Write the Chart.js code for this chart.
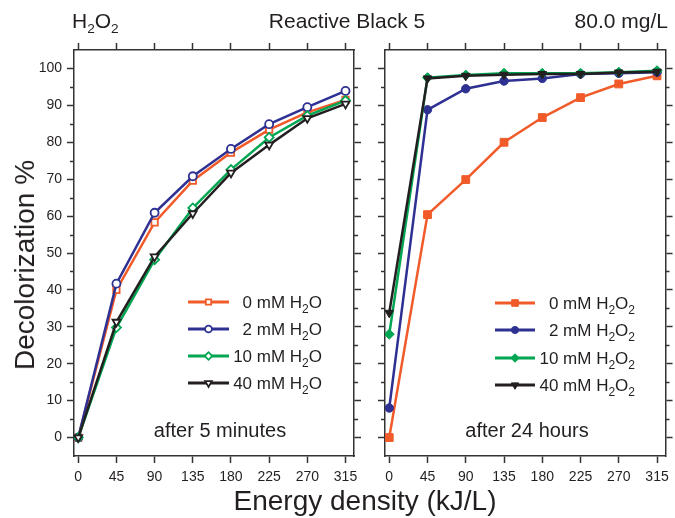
<!DOCTYPE html>
<html>
<head>
<meta charset="utf-8">
<script src="https://cdn.jsdelivr.net/npm/chart.js@4.4.1/dist/chart.umd.min.js"></script>
<style>
  body { margin: 0; background: #fff; }
  #wrap { position: relative; width: 675px; height: 518px; overflow: hidden;
          font-family: 'Liberation Sans', Arial, sans-serif; color: #231f20; }
  #wrap canvas { position: absolute; top: 0; }
  .txt { position: absolute; white-space: nowrap; line-height: 1; }
  .txt sub { font-size: 0.65em; vertical-align: -0.35em; line-height: 0; }
</style>
</head>
<body>
<div id="wrap">
  <canvas id="leftChart" width="370" height="490" style="left:0"></canvas>
  <canvas id="rightChart" width="305" height="490" style="left:370px"></canvas>

  <div class="txt" style="left:72px;top:10px;font-size:21px">H<sub>2</sub>O<sub>2</sub></div>
  <div class="txt" style="left:347px;top:10px;font-size:21px;transform:translateX(-50%)">Reactive Black 5</div>
  <div class="txt" style="right:7px;top:10px;font-size:21px">80.0 mg/L</div>

  <div class="txt" style="left:220px;top:420px;font-size:20px;transform:translateX(-50%)">after 5 minutes</div>
  <div class="txt" style="left:527px;top:420px;font-size:20px;transform:translateX(-50%)">after 24 hours</div>

  <div class="txt" style="left:365px;top:487px;font-size:28px;transform:translateX(-50%)">Energy density (kJ/L)</div>
  <div class="txt" style="left:25px;top:265px;font-size:28px;transform:translate(-50%,-50%) rotate(-90deg)">Decolorization %</div>
</div>

<script>
// energy density (kJ/L)
const energy = [0, 45, 90, 135, 180, 225, 270, 315];
const xTicks = [0, 45, 90, 135, 180, 225, 270, 315];
const yTicks = [0, 10, 20, 30, 40, 50, 60, 70, 80, 90, 100];
const yMinorTicks = [5, 15, 25, 35, 45, 55, 65, 75, 85, 95];

// after 5 minutes
const min5_0mM  = [0, 40.0, 58.3, 69.6, 77.2, 83.4, 88.1, 91.5];
const min5_2mM  = [0, 41.7, 60.9, 70.8, 78.2, 84.9, 89.5, 93.9];
const min5_10mM = [0, 29.8, 48.2, 62.2, 72.6, 81.3, 87.2, 91.3];
const min5_40mM = [0, 31.3, 49.0, 60.7, 71.7, 79.3, 86.5, 90.4];

// after 24 hours
const h24_0mM  = [0, 60.4, 69.9, 80.0, 86.7, 92.1, 95.8, 98.0];
const h24_2mM  = [8.0, 88.8, 94.5, 96.6, 97.3, 98.5, 98.7, 99.0];
const h24_10mM = [28.0, 97.5, 98.2, 98.7, 98.7, 98.7, 99.0, 99.4];
const h24_40mM = [33.8, 97.3, 98.0, 98.3, 98.5, 98.5, 98.9, 99.1];

const labels5 = ['0 mM H_2O', '2 mM H_2O', '10 mM H_2O', '40 mM H_2O'];
const labels24 = ['0 mM H_2O_2', '2 mM H_2O_2', '10 mM H_2O_2', '40 mM H_2O_2'];

const colors = ['#f15a29', '#2e3192', '#00a651', '#231f20'];
const markers = ['rect', 'circle', 'rectRot', 'triangle'];
const FONT = "'Liberation Sans', Arial, sans-serif";
const axisColor = '#333';

// text with "_2" style subscripts, right aligned
function drawSubText(ctx, text, right, baseline, size) {
  const parts = text.split(/_(\d)/);
  const big = size + 'px ' + FONT, small = Math.round(size * 0.68) + 'px ' + FONT;
  let total = 0;
  parts.forEach((p, i) => { ctx.font = i % 2 ? small : big; total += ctx.measureText(p).width; });
  let x = right - total;
  ctx.fillStyle = '#231f20';
  ctx.textAlign = 'left';
  ctx.textBaseline = 'alphabetic';
  parts.forEach((p, i) => {
    ctx.font = i % 2 ? small : big;
    ctx.fillText(p, x, i % 2 ? baseline + 5 : baseline);
    x += ctx.measureText(p).width;
  });
}

const panelLegend = {
  id: 'panelLegend',
  afterDraw(chart, args, opts) {
    const ctx = chart.ctx;
    ctx.save();
    chart.data.datasets.forEach((ds, i) => {
      const y = opts.rows[i];
      ctx.strokeStyle = ds.borderColor;
      ctx.lineWidth = 3;
      ctx.beginPath();
      ctx.moveTo(opts.lineFrom, y);
      ctx.lineTo(opts.lineTo, y);
      ctx.stroke();
      ctx.fillStyle = ds.pointBackgroundColor;
      ctx.strokeStyle = ds.pointBorderColor;
      ctx.lineWidth = ds.pointBorderWidth;
      Chart.helpers.drawPoint(ctx, {
        pointStyle: ds.pointStyle, rotation: ds.pointRotation || 0,
        radius: ds.pointRadius * 0.85, borderWidth: ds.pointBorderWidth
      }, (opts.lineFrom + opts.lineTo) / 2, y);
      drawSubText(ctx, opts.labels[i], opts.textRight, y + 6, 17);
    });
    ctx.restore();
  }
};

// short minor ticks on the y axes
const minorTicks = {
  id: 'minorTicks',
  afterDraw(chart) {
    const ctx = chart.ctx;
    ctx.save();
    ctx.strokeStyle = axisColor;
    ctx.lineWidth = 1.5;
    ['y', 'yRight'].forEach(id => {
      const s = chart.scales[id];
      yMinorTicks.forEach(v => {
        const py = Math.round(s.getPixelForValue(v)) + 0.5;
        ctx.beginPath();
        if (id === 'y') { ctx.moveTo(s.right - 4, py); ctx.lineTo(s.right, py); }
        else { ctx.moveTo(s.left, py); ctx.lineTo(s.left + 4, py); }
        ctx.stroke();
      });
    });
    ctx.restore();
  }
};

// marker sizes: open markers (5 min) and filled ones (24 h)
const openRadius = { rect: 4.5, circle: 4, rectRot: 4.5, triangle: 4.5 };
const filledRadius = { rect: 5.5, circle: 4.2, rectRot: 5, triangle: 5 };

function makeDatasets(seriesList, open) {
  return seriesList.map((vals, i) => ({
    data: energy.map((x, k) => ({ x: x, y: vals[k] })),
    borderColor: colors[i],
    borderWidth: 2.5,
    pointStyle: markers[i],
    pointRotation: markers[i] === 'triangle' ? 180 : 0,
    pointRadius: open ? openRadius[markers[i]] : filledRadius[markers[i]],
    pointBorderWidth: open ? 1.8 : 1,
    pointBackgroundColor: open ? '#fff' : colors[i],
    pointBorderColor: colors[i],
    order: 3 - i,
    tension: 0
  }));
}

function axisX(position, showLabels, size) {
  return {
    type: 'linear', axis: 'x', position: position, min: -5, max: 325,
    afterBuildTicks: s => { s.ticks = xTicks.map(v => ({ value: v })); },
    afterFit: s => { s.height = size; },
    grid: { drawOnChartArea: false, drawTicks: true, tickLength: 7, tickWidth: 1.5, tickColor: axisColor },
    border: { display: true, color: axisColor, width: 1.5 },
    ticks: { callback: v => showLabels ? String(v) : '', color: '#231f20', font: { size: 14, family: FONT },
             padding: 6, maxRotation: 0, autoSkip: false }
  };
}

function axisY(position, showLabels, size) {
  return {
    type: 'linear', axis: 'y', position: position, min: -5, max: 105,
    afterBuildTicks: s => { s.ticks = yTicks.map(v => ({ value: v })); },
    afterFit: s => { s.width = size; },
    grid: { drawOnChartArea: false, drawTicks: true, tickLength: 7, tickWidth: 1.5, tickColor: axisColor },
    border: { display: true, color: axisColor, width: 1.5 },
    ticks: { callback: v => showLabels ? String(v) : '', color: '#231f20', font: { size: 14, family: FONT }, padding: 5 }
  };
}

function makePanel(id, seriesList, open, axes, legend) {
  return new Chart(document.getElementById(id), {
    type: 'line',
    data: { datasets: makeDatasets(seriesList, open) },
    options: {
      responsive: false,
      animation: false,
      layout: { padding: 0 },
      scales: {
        x: axisX('bottom', true, 34),
        xTop: axisX('top', false, 50),
        y: axisY('left', axes.yLabels, axes.left),
        yRight: axisY('right', false, axes.right)
      },
      plugins: {
        legend: { display: false },
        tooltip: { enabled: false },
        panelLegend: legend
      }
    },
    plugins: [panelLegend, minorTicks]
  });
}

makePanel('leftChart', [min5_0mM, min5_2mM, min5_10mM, min5_40mM], true,
  { yLabels: true, left: 74, right: 16 },
  { rows: [302, 329, 356, 383], lineFrom: 188, lineTo: 229, textRight: 322, labels: labels5 });

makePanel('rightChart', [h24_0mM, h24_2mM, h24_10mM, h24_40mM], false,
  { yLabels: false, left: 15, right: 7 },
  { rows: [303, 330, 358, 385], lineFrom: 125, lineTo: 165, textRight: 265, labels: labels24 });
</script>
</body>
</html>
